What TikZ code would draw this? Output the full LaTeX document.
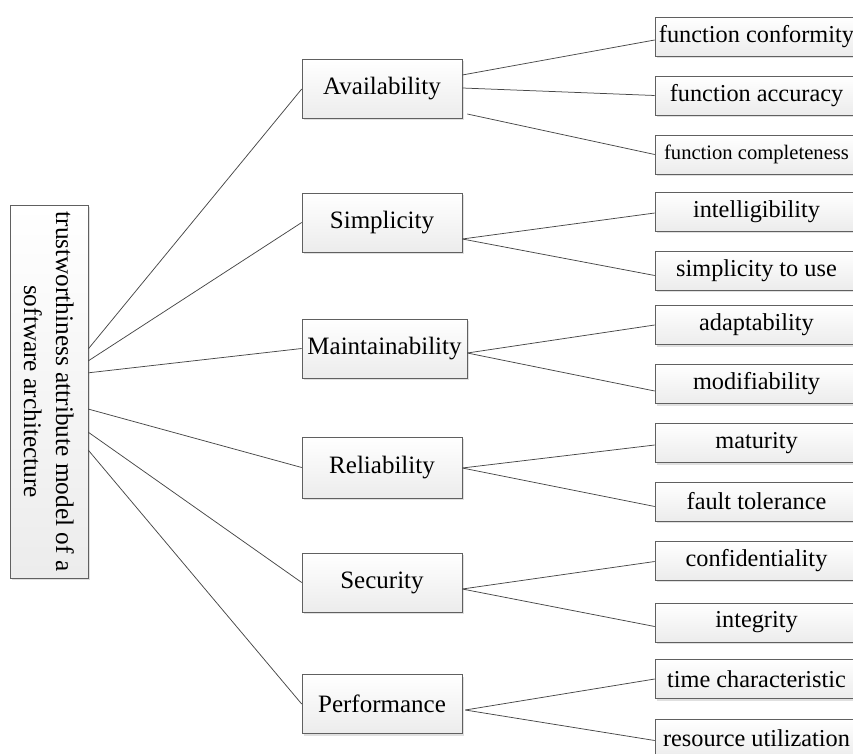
\documentclass[tikz,border=0pt]{standalone}
\usepackage{fontspec}
\setmainfont{Liberation Serif}
\usetikzlibrary{calc,shadows}
\begin{document}
\begin{tikzpicture}[x=1pt,y=-1pt,
 box/.style={draw=gray!75!black, line width=0.6pt, top color=white, bottom color=gray!15,
   drop shadow={shadow xshift=2pt, shadow yshift=-2pt, fill=gray!40, opacity=0.6}, inner sep=0pt},
 midbox/.style={box, minimum width=160pt, minimum height=59pt, font=\fontsize{25}{28}\selectfont},
 leafbox/.style={box, minimum width=203pt, minimum height=39pt, font=\fontsize{24.3}{28}\selectfont},
 link/.style={draw=black!72, line width=0.75pt}]
\useasboundingbox (0,0) rectangle (853,754);

% root
\node[box, rotate=-90, minimum width=373pt, minimum height=78pt, align=center,
  font=\fontsize{25.3}{32}\selectfont] (root) at (49,391.5)
  {trustworthiness attribute model of a\\ software architecture};

% middle level
\node[midbox] (A) at (382,89) {Availability};
\node[midbox] (S) at (382,222.5) {Simplicity};
\node[midbox, minimum width=165pt] (M) at (384.5,348.5) {Maintainability};
\node[midbox, minimum height=61pt] (R) at (382,467.5) {Reliability};
\node[midbox] (Se) at (382,582.5) {Security};
\node[midbox] (P) at (382,704) {Performance};

% leaves
\node[leafbox] (a1) at (756.5,36.5) {function conformity};
\node[leafbox] (a2) at (756.5,95.5) {function accuracy};
\node[leafbox, font=\fontsize{20.6}{24}\selectfont] (a3) at (756.5,154.5) {function completeness};
\node[leafbox] (s1) at (756.5,211.5) {intelligibility};
\node[leafbox] (s2) at (756.5,270.5) {simplicity to use};
\node[leafbox] (m1) at (756.5,325) {adaptability};
\node[leafbox] (m2) at (756.5,384) {modifiability};
\node[leafbox] (r1) at (756.5,443) {maturity};
\node[leafbox] (r2) at (756.5,501.5) {fault tolerance};
\node[leafbox] (e1) at (756.5,560.5) {confidentiality};
\node[leafbox] (e2) at (756.5,622.5) {integrity};
\node[leafbox] (p1) at (756.5,679) {time characteristic};
\node[leafbox] (p2) at (756.5,738.5) {resource utilization};

% root links
\draw[link] ($(root.north west)!0.386!(root.north east)$) -- (A.west);
\draw[link] ($(root.north west)!0.418!(root.north east)$) -- (S.west);
\draw[link] ($(root.north west)!0.450!(root.north east)$) -- (M.west);
\draw[link] ($(root.north west)!0.547!(root.north east)$) -- (R.west);
\draw[link] ($(root.north west)!0.609!(root.north east)$) -- (Se.west);
\draw[link] ($(root.north west)!0.657!(root.north east)$) -- (P.west);

% middle-to-leaf links
\draw[link] ([yshift=14pt]A.east) -- ([yshift=-3.5pt]a1.west);
\draw[link] ([yshift=1pt]A.east) -- (a2.west);
\draw[link] ([xshift=5pt,yshift=-25pt]A.east) -- (a3.west);

\draw[link] ([yshift=-16.5pt]S.east) -- ([yshift=-1.5pt]s1.west);
\draw[link] ([yshift=-16.5pt]S.east) -- ([yshift=-5pt]s2.west);

\draw[link] ([yshift=-4.5pt]M.east) -- (m1.west);
\draw[link] ([yshift=-4.5pt]M.east) -- ([yshift=-7pt]m2.west);

\draw[link] ([yshift=-0.5pt]R.east) -- ([yshift=-2pt]r1.west);
\draw[link] ([yshift=-0.5pt]R.east) -- ([yshift=-5pt]r2.west);

\draw[link] ([yshift=-6.5pt]Se.east) -- ([yshift=-1pt]e1.west);
\draw[link] ([yshift=-6.5pt]Se.east) -- ([yshift=-4pt]e2.west);

\draw[link] ([xshift=3pt,yshift=-6pt]P.east) -- (p1.west);
\draw[link] ([xshift=3pt,yshift=-6pt]P.east) -- ([yshift=-2pt]p2.west);
\end{tikzpicture}
\end{document}
